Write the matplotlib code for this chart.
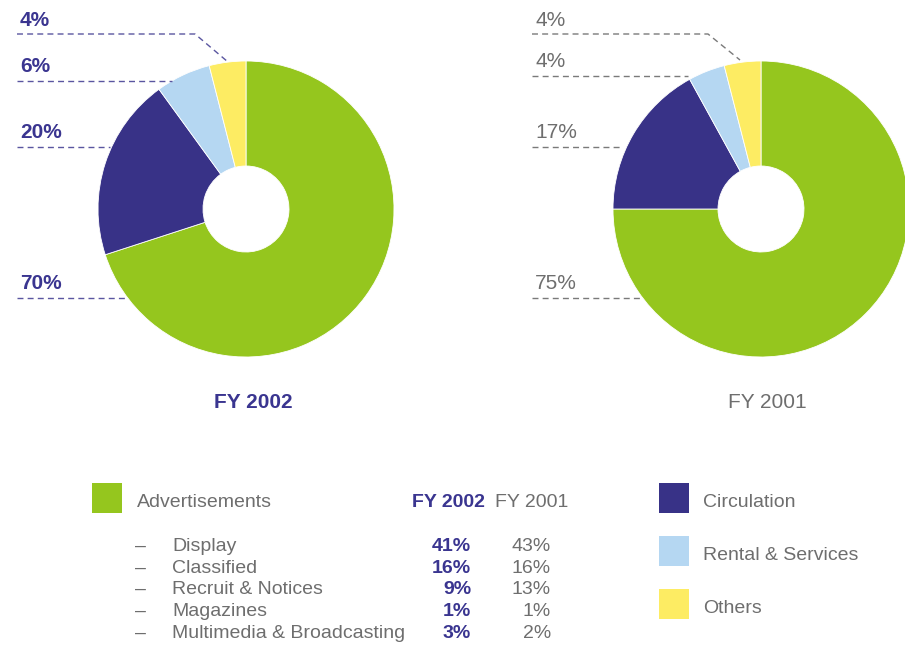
import matplotlib
matplotlib.use("Agg")
import matplotlib.pyplot as plt
from matplotlib.patches import Rectangle

# data
categories = ["Advertisements", "Circulation", "Rental & Services", "Others"]
share_2002 = [70, 20, 6, 4]
share_2001 = [75, 17, 4, 4]
colors = ["#95c61e", "#383287", "#b5d7f2", "#fdec63"]

ad_items = ["Display", "Classified", "Recruit & Notices", "Magazines",
            "Multimedia & Broadcasting"]
ad_2002 = [41, 16, 9, 1, 3]
ad_2001 = [43, 16, 13, 1, 2]

NAVY = "#3a3590"
GREY = "#6e6e6e"
H = 646

plt.rcParams['font.family'] = ['Liberation Sans', 'DejaVu Sans']


def Y(py):
    return H - py


fig = plt.figure(figsize=(9.05, 6.46), dpi=100)
ax = fig.add_axes([0, 0, 1, 1])


def donut(cx, vals, year, bold, tcol, lcol, label_base, line_y, line_end, title_x):
    ax.pie(vals, colors=colors, startangle=90, counterclock=False,
           center=(cx, Y(209)), radius=148,
           wedgeprops=dict(width=105, edgecolor="white", linewidth=0.6))
    # labels listed from top: Others, Rental, Circulation, Ads
    order = [3, 2, 1, 0]
    for k, i in enumerate(order):
        ax.text(cx - 226, Y(label_base[k]), f"{vals[i]}%", color=tcol,
                fontsize=15, fontweight=bold, ha="left", va="baseline")
        xs = [cx - 229, line_end[k][0]]
        ys = [Y(line_y[k]), Y(line_y[k])]
        if len(line_end[k]) > 2:
            xs.append(line_end[k][2])
            ys.append(Y(line_end[k][3]))
        ax.plot(xs, ys, color=lcol, lw=1.0, dashes=(4.3, 3.0))
    ax.text(title_x, Y(408), year, color=tcol, fontsize=15, fontweight=bold,
            ha="center", va="baseline")


donut(246, share_2002, "FY 2002", "bold", NAVY, "#5a56a0",
      [26, 72, 138, 289], [34, 81, 147, 298],
      [(195, 0, 228, 62), (172,), (110,), (127,)], 253)
donut(761, share_2001, "FY 2001", "normal", GREY, "#7a7a7a",
      [26, 67, 138, 289], [34, 76, 147, 298],
      [(708, 0, 740, 60), (688,), (623,), (640,)], 767)

# legend left: advertisements breakdown
fs = 14
ax.add_patch(Rectangle((92, Y(513)), 30, 30, color=colors[0], lw=0))
ax.text(137, Y(507), categories[0], color=GREY, fontsize=fs, va="baseline")
ax.text(485, Y(507), "FY 2002", color=NAVY, fontsize=fs, fontweight="bold",
        ha="right", va="baseline")
ax.text(568, Y(507), "FY 2001", color=GREY, fontsize=fs, ha="right", va="baseline")
row_base = [551, 573, 594, 616, 638]
for name, a, b, yb in zip(ad_items, ad_2002, ad_2001, row_base):
    ax.text(135, Y(yb), "\u2013", color=GREY, fontsize=fs, va="baseline")
    ax.text(172, Y(yb), name, color=GREY, fontsize=fs, va="baseline")
    ax.text(471, Y(yb), f"{a}%", color=NAVY, fontsize=fs, fontweight="bold",
            ha="right", va="baseline")
    ax.text(551, Y(yb), f"{b}%", color=GREY, fontsize=fs, ha="right", va="baseline")

# legend right
sq_top = [483, 536, 589]
for i, top in zip([1, 2, 3], sq_top):
    ax.add_patch(Rectangle((659, Y(top + 30)), 30, 30, color=colors[i], lw=0))
    ax.text(703, Y(top + 24), categories[i], color=GREY, fontsize=fs, va="baseline")

ax.set_xlim(0, 905)
ax.set_ylim(0, H)
ax.set_aspect("equal")
ax.axis("off")

fig.savefig("out.png", dpi=100)
